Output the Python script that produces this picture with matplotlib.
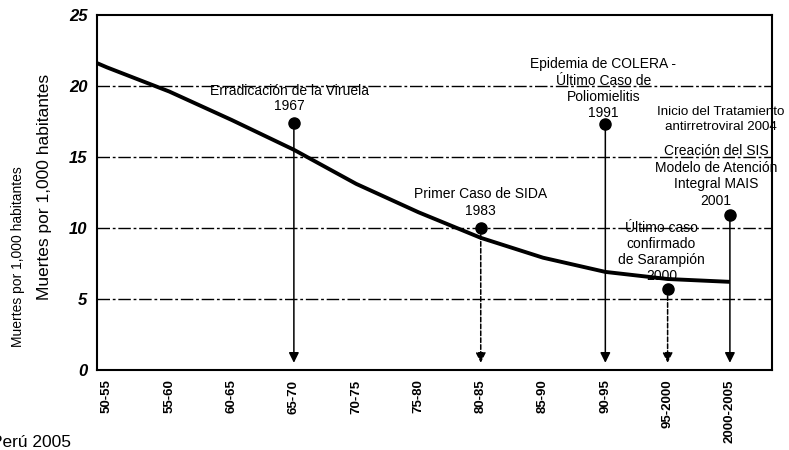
import numpy as np
import matplotlib.pyplot as plt

plt.rcParams['font.family'] = ['Liberation Sans', 'DejaVu Sans']

# periods on the x axis
periodos = ["50-55", "55-60", "60-65", "65-70", "70-75", "75-80",
            "80-85", "85-90", "90-95", "95-2000", "2000-2005"]
# deaths per 1,000 inhabitants
tasa = [21.3, 19.6, 17.6, 15.5, 13.1, 11.1, 9.3, 7.9, 6.9, 6.4, 6.2]

# events: index of period, marker height, label
ev_idx = [3, 6, 8, 9, 10]
ev_y = [17.4, 10.0, 17.3, 5.7, 10.9]
ev_txt = ["Erradicación de la Viruela\n1967",
          "Primer Caso de SIDA\n1983",
          "Epidemia de COLERA -\nÚltimo Caso de\nPoliomielitis\n1991",
          "Último caso\nconfirmado\nde Sarampión\n2000",
          "Creación del SIS\nModelo de Atención\nIntegral MAIS\n2001"]
extra_txt = "Inicio del Tratamiento\nantirretroviral 2004"

# label placement (layout only)
lab_dx = [-0.07, 0.0, -0.03, -0.1, -0.22]
lab_y = [18.1, 10.7, 17.6, 6.1, 11.4]
lab_ls = [1.07, 1.29, 1.2, 1.2, 1.24]
ev_dash = [False, True, False, True, False]

fig = plt.figure(figsize=(7.89, 4.5), dpi=100)
ax = fig.add_axes([0.123, 0.178, 0.855, 0.789])

x = np.arange(len(periodos))

# curve, starts at the left edge
ax.plot(np.r_[-0.16, x], np.r_[21.6, tasa], color='black', lw=2.8,
        solid_capstyle='butt', solid_joinstyle='round', zorder=3)

for yy in [5, 10, 15, 20]:
    ax.axhline(yy, color='black', lw=1, ls=(0, (9, 2, 2, 2)), zorder=1)

for k, (i, yv, t) in enumerate(zip(ev_idx, ev_y, ev_txt)):
    ax.annotate("", xy=(i, 0.5), xytext=(i, yv),
                arrowprops=dict(arrowstyle='-|>', color='black', lw=1.1,
                                ls=(0, (3, 1.5)) if ev_dash[k] else '-',
                                mutation_scale=15, shrinkA=0, shrinkB=0),
                zorder=4)
    ax.plot(i, yv, 'o', color='black', ms=8, zorder=5)
    ax.text(i + lab_dx[k], lab_y[k], t, ha='center', va='bottom',
            fontsize=10, linespacing=lab_ls[k], zorder=6)

ax.text(9.85, 16.7, extra_txt, ha='center', va='bottom', fontsize=9.6,
        linespacing=1.33, zorder=6)

ax.set_xlim(-0.16, 10.67)
ax.set_ylim(0, 25)
ax.set_xticks(x)
ax.set_xticklabels(periodos, rotation=90, fontsize=9.5, fontweight='bold',
                   family=['Liberation Sans Narrow', 'Liberation Sans'])
ax.set_yticks([0, 5, 10, 15, 20, 25])
ax.set_yticklabels(['0', '5', '10', '15', '20', '25'], fontsize=12,
                   style='italic', fontweight='bold')
ax.tick_params(length=0, pad=7)
ax.tick_params(axis='x', pad=7)
for s in ax.spines.values():
    s.set_linewidth(1.5)

fig.text(0.023, 0.43, "Muertes por 1,000 habitantes", rotation=90,
         ha='center', va='center', fontsize=10)
fig.text(0.057, 0.584, "Muertes por 1,000 habitantes", rotation=90,
         ha='center', va='center', fontsize=12.5)
fig.text(-0.012, 0.0, "Perú 2005", ha='left', va='bottom', fontsize=12.5)

fig.savefig("out.png", dpi=100)
